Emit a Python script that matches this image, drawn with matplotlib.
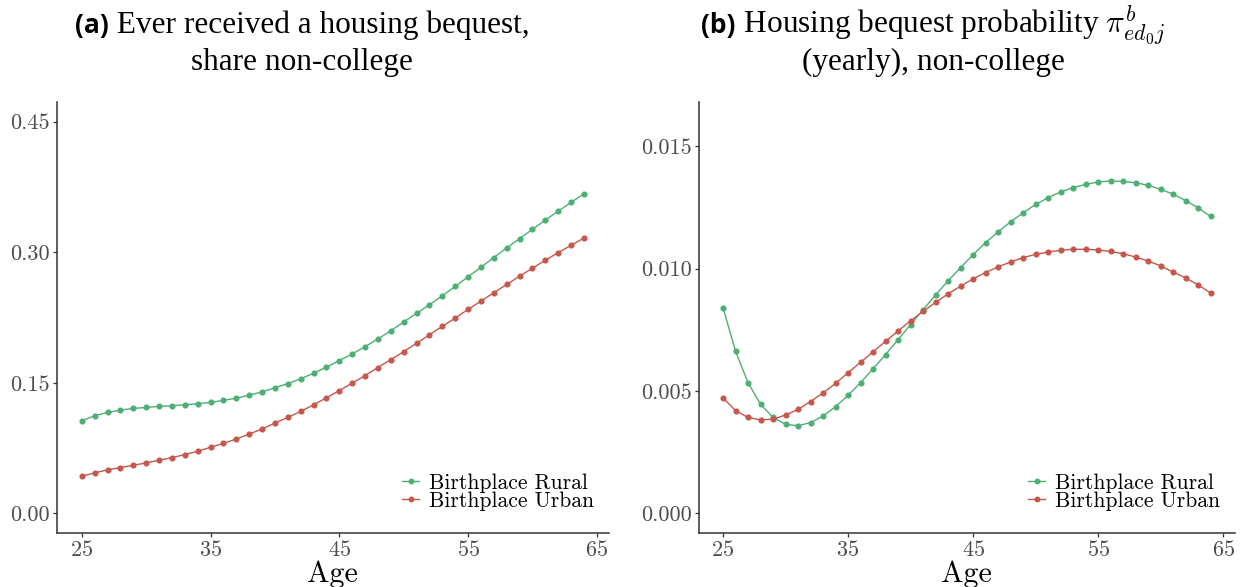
import numpy as np
import matplotlib
matplotlib.use("Agg")
import matplotlib.pyplot as plt
from matplotlib.ticker import FormatStrFormatter
from matplotlib.lines import Line2D

plt.rcParams['mathtext.fontset'] = 'cm'
plt.rcParams['axes.formatter.use_mathtext'] = True

# 数据
ages = np.arange(25, 65)

ever_rural = [0.1065, 0.1122, 0.1160, 0.1187, 0.1206, 0.1218, 0.1229, 0.1237, 0.1248, 0.1260,
              0.1275, 0.1298, 0.1324, 0.1359, 0.1397, 0.1443, 0.1492, 0.1546, 0.1611, 0.1680,
              0.1756, 0.1832, 0.1916, 0.2004, 0.2099, 0.2199, 0.2298, 0.2397, 0.2500, 0.2607,
              0.2718, 0.2828, 0.2939, 0.3050, 0.3157, 0.3264, 0.3370, 0.3473, 0.3573, 0.3672]
ever_urban = [0.0427, 0.0466, 0.0500, 0.0527, 0.0553, 0.0580, 0.0611, 0.0641, 0.0676, 0.0714,
              0.0760, 0.0805, 0.0855, 0.0912, 0.0970, 0.1038, 0.1103, 0.1172, 0.1248, 0.1328,
              0.1412, 0.1496, 0.1584, 0.1676, 0.1767, 0.1859, 0.1954, 0.2054, 0.2149, 0.2244,
              0.2344, 0.2439, 0.2535, 0.2630, 0.2725, 0.2817, 0.2909, 0.2996, 0.3080, 0.3164]

prob_rural = [0.00841, 0.00663, 0.00534, 0.00446, 0.00392, 0.00364, 0.00358, 0.00371, 0.00398, 0.00436,
              0.00482, 0.00534, 0.00591, 0.00649, 0.00710, 0.00771, 0.00832, 0.00892, 0.00950, 0.01004,
              0.01057, 0.01106, 0.01150, 0.01191, 0.01228, 0.01262, 0.01290, 0.01313, 0.01331, 0.01344,
              0.01354, 0.01358, 0.01356, 0.01351, 0.01340, 0.01324, 0.01304, 0.01278, 0.01248, 0.01213]
prob_urban = [0.00472, 0.00420, 0.00392, 0.00382, 0.00385, 0.00402, 0.00425, 0.00457, 0.00492, 0.00531,
              0.00575, 0.00617, 0.00660, 0.00703, 0.00745, 0.00787, 0.00825, 0.00862, 0.00897, 0.00928,
              0.00958, 0.00984, 0.01007, 0.01027, 0.01045, 0.01058, 0.01068, 0.01075, 0.01079, 0.01079,
              0.01076, 0.01070, 0.01061, 0.01047, 0.01031, 0.01011, 0.00986, 0.00962, 0.00934, 0.00900]

x_ticks = [25, 35, 45, 55, 65]
yticks_a = [0.00, 0.15, 0.30, 0.45]
yticks_b = [0.000, 0.005, 0.010, 0.015]
labels = ['Birthplace Rural', 'Birthplace Urban']

green = '#4DAF74'
red = '#C5574C'
tick_col = '#4D4D4D'

fig = plt.figure(figsize=(12.46, 5.87), dpi=100)
ax1 = fig.add_axes([0.0455, 0.092, 0.4433, 0.734])
ax2 = fig.add_axes([0.5607, 0.092, 0.4305, 0.734])


def style_axis(ax, yticks, fmt, ylim):
    ax.set_xlim(23.05, 65.95)
    ax.set_ylim(*ylim)
    ax.set_xticks(x_ticks)
    ax.set_yticks(yticks)
    ax.yaxis.set_major_formatter(FormatStrFormatter(fmt))
    for s in ['top', 'right']:
        ax.spines[s].set_visible(False)
    for s in ['left', 'bottom']:
        ax.spines[s].set_linewidth(1.1)
        ax.spines[s].set_color('#333333')
    ax.tick_params(length=3, width=0.9, color='#333333', labelcolor=tick_col, labelsize=16, pad=2)
    for lab in ax.get_xticklabels() + ax.get_yticklabels():
        lab.set_fontfamily('cmr10')
    ax.set_xlabel('Age', fontfamily='cmr10', fontsize=21.5, labelpad=0.5)


ax1.plot(ages, ever_rural, color=green, lw=1.0, marker='o', ms=3.4)
ax1.plot(ages, ever_urban, color=red, lw=1.0, marker='o', ms=3.4)
style_axis(ax1, yticks_a, '%.2f', (-0.0225, 0.4725))

ax2.plot(ages, prob_rural, color=green, lw=1.0, marker='o', ms=3.4)
ax2.plot(ages, prob_urban, color=red, lw=1.0, marker='o', ms=3.4)
style_axis(ax2, yticks_b, '%.3f', (-0.0008, 0.0168))

handles = [Line2D([], [], color=green, lw=1.0, marker='o', ms=3.2),
           Line2D([], [], color=red, lw=1.0, marker='o', ms=3.2)]
for ax in [ax1, ax2]:
    ax.legend(handles, labels, loc='lower right', bbox_to_anchor=(1.0, 0.016), frameon=False,
              prop={'family': 'cmr10', 'size': 15.5}, handlelength=0.8, handletextpad=0.45,
              labelspacing=-0.05, borderaxespad=0.3)

# 标题：粗体无衬线 "(a)" + 衬线正文
title_rows = [
    (302, 25, '(a)', ' Ever received a housing bequest,'),
    (302, 62, None, 'share non-college'),
    (933, 25, '(b)', r' Housing bequest probability $\pi^b_{ed_0j}$'),
    (933, 62, None, '(yearly), non-college'),
]
fig.canvas.draw()
renderer = fig.canvas.get_renderer()
W, H = 1246, 587
for cx, cy, bold, rest in title_rows:
    parts = []
    if bold:
        parts.append(fig.text(0, 0, bold, fontfamily='Open Sans', fontweight='bold', fontsize=19,
                              va='baseline', ha='left'))
    parts.append(fig.text(0, 0, rest, fontfamily='Liberation Serif', fontsize=22.5,
                          va='baseline', ha='left'))
    widths = [p.get_window_extent(renderer).width for p in parts]
    x = cx - sum(widths) / 2
    base = cy + 8
    for p, w in zip(parts, widths):
        p.set_position((x / W, 1 - base / H))
        x += w

fig.savefig('out.png', dpi=100)
